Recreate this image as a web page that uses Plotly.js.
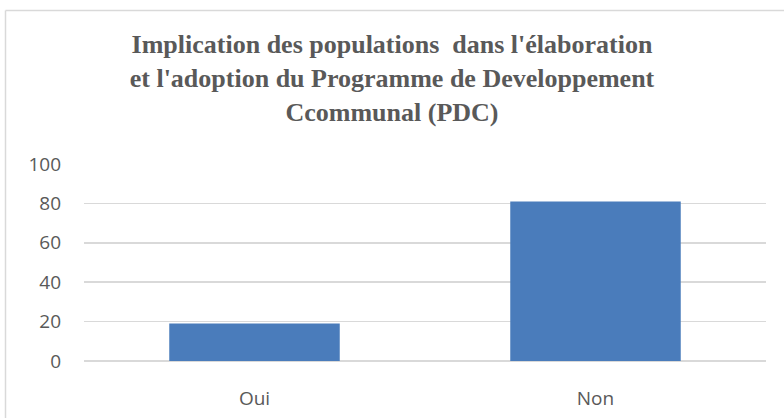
<!DOCTYPE html>
<html>
<head>
<meta charset="utf-8">
<script src="https://cdn.plot.ly/plotly-3.0.1.min.js"></script>
<style>html,body{margin:0;padding:0;background:#fff;}#chart{width:784px;height:418px;}</style>
</head>
<body>
<div id="chart"></div>
<script>
const categories = ["Oui", "Non"];
const values = [19, 81];
const yTicks = [0, 20, 40, 60, 80, 100];

const trace = {
  type: "bar",
  x: categories,
  y: values,
  width: 0.5,
  marker: {color: "#4a7cbb", line: {width: 0}},
  hoverinfo: "none"
};

const layout = {
  width: 784, height: 418,
  margin: {l: 84, r: 18, t: 164, b: 57},
  paper_bgcolor: "#ffffff", plot_bgcolor: "#ffffff",
  showlegend: false,
  title: {
    text: "Implication des populations  dans l'élaboration<br>et l'adoption du Programme de Developpement<br>Ccommunal (PDC)",
    font: {family: "Liberation Serif, Times New Roman, serif", size: 26, color: "#595959", weight: "bold"},
    x: 0.5, xanchor: "center", xref: "container",
    y: 0.873, yanchor: "top", yref: "container"
  },
  xaxis: {
    type: "category",
    showgrid: false, showline: false, zeroline: false, ticks: "",
    tickfont: {family: "Open Sans, Liberation Sans, sans-serif", size: 19, color: "#595959"},
    ticklabelstandoff: 24
  },
  yaxis: {
    range: [0, 100], tickvals: yTicks, ticktext: yTicks.map(String),
    showgrid: true, gridcolor: "#d9d9d9", gridwidth: 1.5,
    zeroline: true, zerolinecolor: "#d9d9d9", zerolinewidth: 1.5,
    showline: false, ticks: "",
    tickfont: {family: "Open Sans, Liberation Sans, sans-serif", size: 19, color: "#595959"},
    ticklabelstandoff: 22
  },
  shapes: [
    {type: "line", xref: "paper", yref: "paper", x0: -0.1151, x1: -0.1151, y0: -0.5, y1: 1.779, line: {color: "#d9d9d9", width: 1.5}},
    {type: "line", xref: "paper", yref: "paper", x0: -0.1151, x1: 1.2, y0: 1.779, y1: 1.779, line: {color: "#d9d9d9", width: 1.5}}
  ]
};

Plotly.newPlot("chart", [trace], layout, {staticPlot: true, displayModeBar: false});
</script>
</body>
</html>
